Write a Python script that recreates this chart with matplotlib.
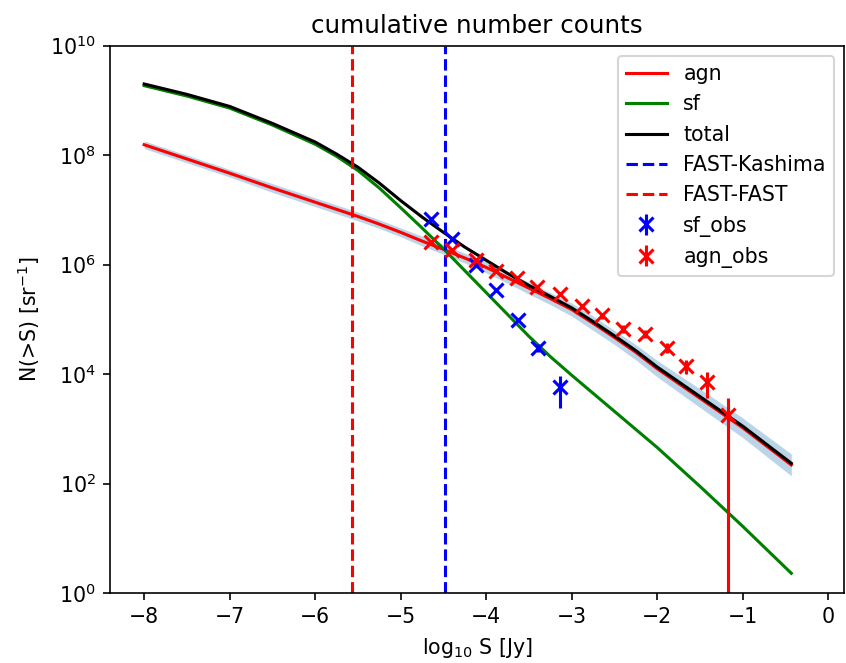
import matplotlib.pyplot as plt
import numpy as np
from matplotlib.ticker import NullLocator

# model curves, log10 S grid and log10 N(>S)
log_s = [-8.0, -7.5, -7.0, -6.5, -6.0, -5.75, -5.5, -5.25, -5.0, -4.75, -4.5, -4.25, -4.0,
         -3.75, -3.5, -3.25, -3.0, -2.75, -2.5, -2.25, -2.0, -1.5, -1.0, -0.43]
log_total = [9.30, 9.11, 8.89, 8.58, 8.24, 8.02, 7.78, 7.49, 7.17, 6.87, 6.59, 6.32, 6.08,
             5.84, 5.62, 5.42, 5.21, 4.96, 4.70, 4.43, 4.13, 3.59, 3.05, 2.37]
log_sf = [9.27, 9.08, 8.86, 8.55, 8.20, 7.98, 7.72, 7.40, 7.04, 6.67, 6.29, 5.89, 5.49,
          5.09, 4.69, 4.32, 3.98, 3.65, 3.32, 2.99, 2.66, 1.95, 1.22, 0.36]
log_agn = [8.19, 7.93, 7.67, 7.40, 7.14, 7.01, 6.88, 6.74, 6.59, 6.43, 6.28, 6.12, 5.95,
           5.76, 5.57, 5.38, 5.18, 4.93, 4.67, 4.40, 4.10, 3.56, 3.02, 2.34]

# uncertainty bands
log_agn_lo = [8.12, 7.86, 7.60, 7.32, 7.06, 6.93, 6.80, 6.66, 6.51, 6.34, 6.19, 6.03, 5.85,
              5.66, 5.46, 5.27, 5.06, 4.80, 4.54, 4.26, 3.95, 3.39, 2.84, 2.14]
log_agn_hi = [8.26, 8.00, 7.74, 7.48, 7.22, 7.09, 6.96, 6.82, 6.67, 6.52, 6.37, 6.21, 6.05,
              5.86, 5.68, 5.49, 5.30, 5.06, 4.80, 4.54, 4.25, 3.73, 3.20, 2.54]
log_sf_lo = [9.25, 9.06, 8.84, 8.53, 8.18, 7.96, 7.70, 7.38, 7.02, 6.65, 6.27, 5.87, 5.47,
             5.07, 4.67, 4.30, 3.96, 3.63, 3.30, 2.97, 2.64, 1.93, 1.20, 0.34]
log_sf_hi = [9.29, 9.10, 8.88, 8.57, 8.22, 8.00, 7.74, 7.42, 7.06, 6.69, 6.31, 5.91, 5.51,
             5.11, 4.71, 4.34, 4.00, 3.67, 3.34, 3.01, 2.68, 1.97, 1.24, 0.38]

# survey limits
fast_kashima = -4.48
fast_fast = -5.57

# observed counts
sf_obs_x = [-4.64, -4.40, -4.12, -3.88, -3.63, -3.39, -3.13]
sf_obs_logn = [6.84, 6.47, 6.00, 5.54, 4.99, 4.48, 3.76]
sf_obs_err = [4e5, 2e5, 8e4, 3e4, 1e4, 5e3, 3.4e3]

agn_obs_x = [-4.64, -4.40, -4.12, -3.88, -3.64, -3.41, -3.13, -2.88, -2.65, -2.40, -2.14, -1.89, -1.66, -1.42, -1.17]
agn_obs_logn = [6.41, 6.26, 6.08, 5.89, 5.76, 5.59, 5.46, 5.24, 5.07, 4.83, 4.73, 4.48, 4.15, 3.86, 3.25]
agn_obs_err = [1.5e5, 1e5, 7e4, 5e4, 4e4, 3e4, 2.5e4, 2e4, 1.5e4, 1.1e4, 9e3, 6e3, 4e3, 3.6e3, 1.85e3]


def pw(vals):
    return 10 ** np.array(vals)


dpi = 148
fig = plt.figure(figsize=(846.01 / dpi, 663.01 / dpi), dpi=dpi)
ax = fig.add_axes([0.130, 0.1056, 0.868, 0.8255])

ax.fill_between(log_s, pw(log_agn_lo), pw(log_agn_hi), color='C0', alpha=0.3, lw=0)
ax.fill_between(log_s, pw(log_sf_lo), pw(log_sf_hi), color='C1', alpha=0.3, lw=0)
ax.plot(log_s, pw(log_agn), color='r', label='agn')
ax.plot(log_s, pw(log_sf), color='g', label='sf')
ax.plot(log_s, pw(log_total), color='k', label='total')

ax.axvline(fast_kashima, color='b', ls='--', label='FAST-Kashima')
ax.axvline(fast_fast, color='r', ls='--', label='FAST-FAST')

# observed points
ax.errorbar(sf_obs_x, pw(sf_obs_logn), yerr=sf_obs_err, fmt='x', color='b',
            ms=7, mew=1.5, label='sf_obs')
ax.errorbar(agn_obs_x, pw(agn_obs_logn), yerr=agn_obs_err, fmt='x', color='r',
            ms=7, mew=1.5, label='agn_obs')

ax.set_yscale('log')
ax.set_ylim(1, 1e10)
ax.set_xlim(-8.4, 0.19)
ax.set_yticks([1e0, 1e2, 1e4, 1e6, 1e8, 1e10])
ax.yaxis.set_minor_locator(NullLocator())

ax.set_xlabel('log$_{10}$ S [Jy]')
ax.set_ylabel('N(>S) [sr$^{-1}$]')
ax.set_title('cumulative number counts')
ax.legend(loc='upper right')

plt.savefig('out.png', dpi=dpi)
